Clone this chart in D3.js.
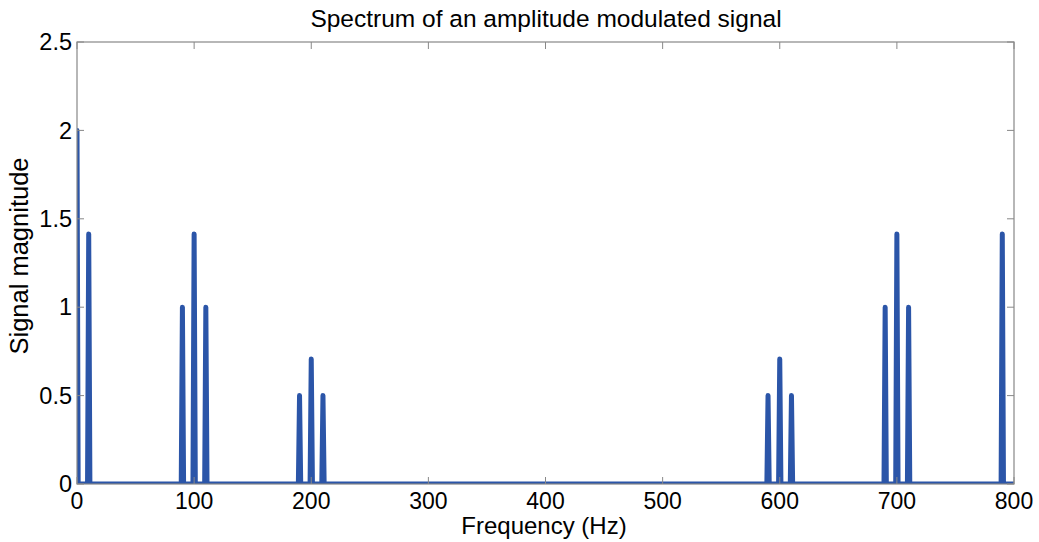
<!DOCTYPE html>
<html>
<head>
<meta charset="utf-8">
<script src="https://cdn.jsdelivr.net/npm/d3@7"></script>
<style>
  body { margin: 0; background: #fff; }
  text { font-family: "Liberation Sans", Arial, sans-serif; fill: #000; }
</style>
</head>
<body>
<svg id="chart" width="1039" height="542"></svg>
<script>
// spectral lines (Hz) and their magnitudes
var peakFreqs = [0, 10, 90, 100, 110, 190, 200, 210, 590, 600, 610, 690, 700, 710, 790];
var peakMags  = [2, 1.414, 1, 1.414, 1, 0.5, 0.707, 0.5, 0.5, 0.707, 0.5, 1, 1.414, 1, 1.414];
var xTicks = [0, 100, 200, 300, 400, 500, 600, 700, 800];
var yTicks = [0, 0.5, 1, 1.5, 2, 2.5];
var freqStep = 1; // spectrum resolution in Hz

var svg = d3.select("#chart");
var margin = {top: 42, right: 25, bottom: 58, left: 77};
var width = +svg.attr("width") - margin.left - margin.right,
    height = +svg.attr("height") - margin.top - margin.bottom;

var x = d3.scaleLinear().domain([0, 800]).range([0, width]);
var y = d3.scaleLinear().domain([0, 2.5]).range([height, 0]);

var g = svg.append("g")
    .attr("transform", "translate(" + margin.left + "," + margin.top + ")");

// polyline: zero everywhere except one bin per peak
var pts = [[0, 0]];
peakFreqs.forEach(function (f, i) {
    if (f - freqStep > 0) pts.push([f - freqStep, 0]);
    pts.push([f, peakMags[i]]);
    pts.push([f + freqStep, 0]);
});
pts.push([800, 0]);

g.append("clipPath").attr("id", "clip")
  .append("rect").attr("x", 0).attr("y", -10).attr("width", width).attr("height", height + 10);

var line = d3.line().x(function (d) { return x(d[0]); }).y(function (d) { return y(d[1]); });

g.append("path")
    .datum(pts)
    .attr("clip-path", "url(#clip)")
    .attr("d", line)
    .attr("fill", "none")
    .attr("stroke", "#2b55a8")
    .attr("stroke-width", 5)
    .attr("stroke-linejoin", "round")
    .attr("stroke-linecap", "round");

// box + ticks
var axisColor = "#888";
g.append("rect")
    .attr("width", width).attr("height", height)
    .attr("fill", "none").attr("stroke", axisColor).attr("stroke-width", 1.2);

var tickLen = 7;
xTicks.forEach(function (t) {
    var xp = x(t);
    g.append("line").attr("x1", xp).attr("x2", xp).attr("y1", height).attr("y2", height - tickLen)
        .attr("stroke", axisColor);
    g.append("line").attr("x1", xp).attr("x2", xp).attr("y1", 0).attr("y2", tickLen)
        .attr("stroke", axisColor);
    g.append("text").attr("x", xp).attr("y", height + 25)
        .attr("text-anchor", "middle").style("font-size", "23px").text(t);
});
yTicks.forEach(function (t) {
    var yp = y(t);
    g.append("line").attr("x1", 0).attr("x2", tickLen).attr("y1", yp).attr("y2", yp)
        .attr("stroke", axisColor);
    g.append("line").attr("x1", width).attr("x2", width - tickLen).attr("y1", yp).attr("y2", yp)
        .attr("stroke", axisColor);
    g.append("text").attr("x", -5).attr("y", yp).attr("dy", "0.35em")
        .attr("text-anchor", "end").style("font-size", "23.5px").text(t);
});

// labels
svg.append("text")
    .attr("x", 546).attr("y", 27)
    .attr("text-anchor", "middle").style("font-size", "24.5px")
    .text("Spectrum of an amplitude modulated signal");

svg.append("text")
    .attr("x", 544).attr("y", 534)
    .attr("text-anchor", "middle").style("font-size", "24px")
    .text("Frequency (Hz)");

svg.append("text")
    .attr("transform", "translate(28,256) rotate(-90)")
    .attr("text-anchor", "middle").style("font-size", "25.5px")
    .text("Signal magnitude");
</script>
</body>
</html>
